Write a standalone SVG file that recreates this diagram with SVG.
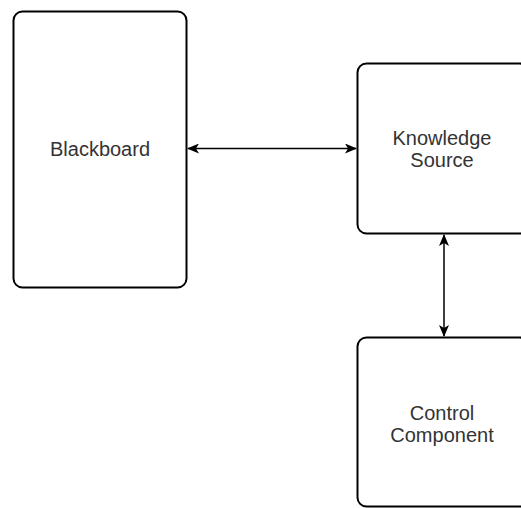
<svg xmlns="http://www.w3.org/2000/svg" width="521" height="508" viewBox="0 0 521 508">
  <style>
    .box { fill: #ffffff; stroke: #000000; stroke-width: 2; }
    .label { font-family: "Liberation Sans", Arial, sans-serif; font-size: 20px; fill: #333333; text-anchor: middle; }
    .link { fill: none; stroke: #000000; stroke-width: 1.5; marker-start: url(#head); marker-end: url(#head); }
  </style>
  <defs>
    <!-- classic notched arrowhead, oriented along the line -->
    <marker id="head" viewBox="0 0 12 10" refX="11" refY="5" markerWidth="12" markerHeight="10" markerUnits="userSpaceOnUse" orient="auto-start-reverse">
      <path d="M0,0 L12,5 L0,10 L3,5 Z" fill="#000000"/>
    </marker>
  </defs>
  <rect width="521" height="508" fill="#ffffff"/>

  <g id="blackboard">
    <rect class="box" x="13.5" y="11.5" width="173" height="276" rx="9"/>
    <text class="label" x="100" y="156">Blackboard</text>
  </g>

  <g id="knowledge-source">
    <rect class="box" x="357.5" y="63.5" width="171" height="170" rx="9"/>
    <text class="label" x="442" y="145">Knowledge</text>
    <text class="label" x="442" y="167">Source</text>
  </g>

  <g id="control-component">
    <rect class="box" x="357.5" y="337.5" width="171" height="169" rx="9"/>
    <text class="label" x="442" y="420">Control</text>
    <text class="label" x="442" y="442">Component</text>
  </g>

  <g id="connectors">
    <line class="link" x1="188" y1="148.5" x2="356" y2="148.5"/>
    <line class="link" x1="444" y1="235" x2="444" y2="336"/>
  </g>
</svg>
